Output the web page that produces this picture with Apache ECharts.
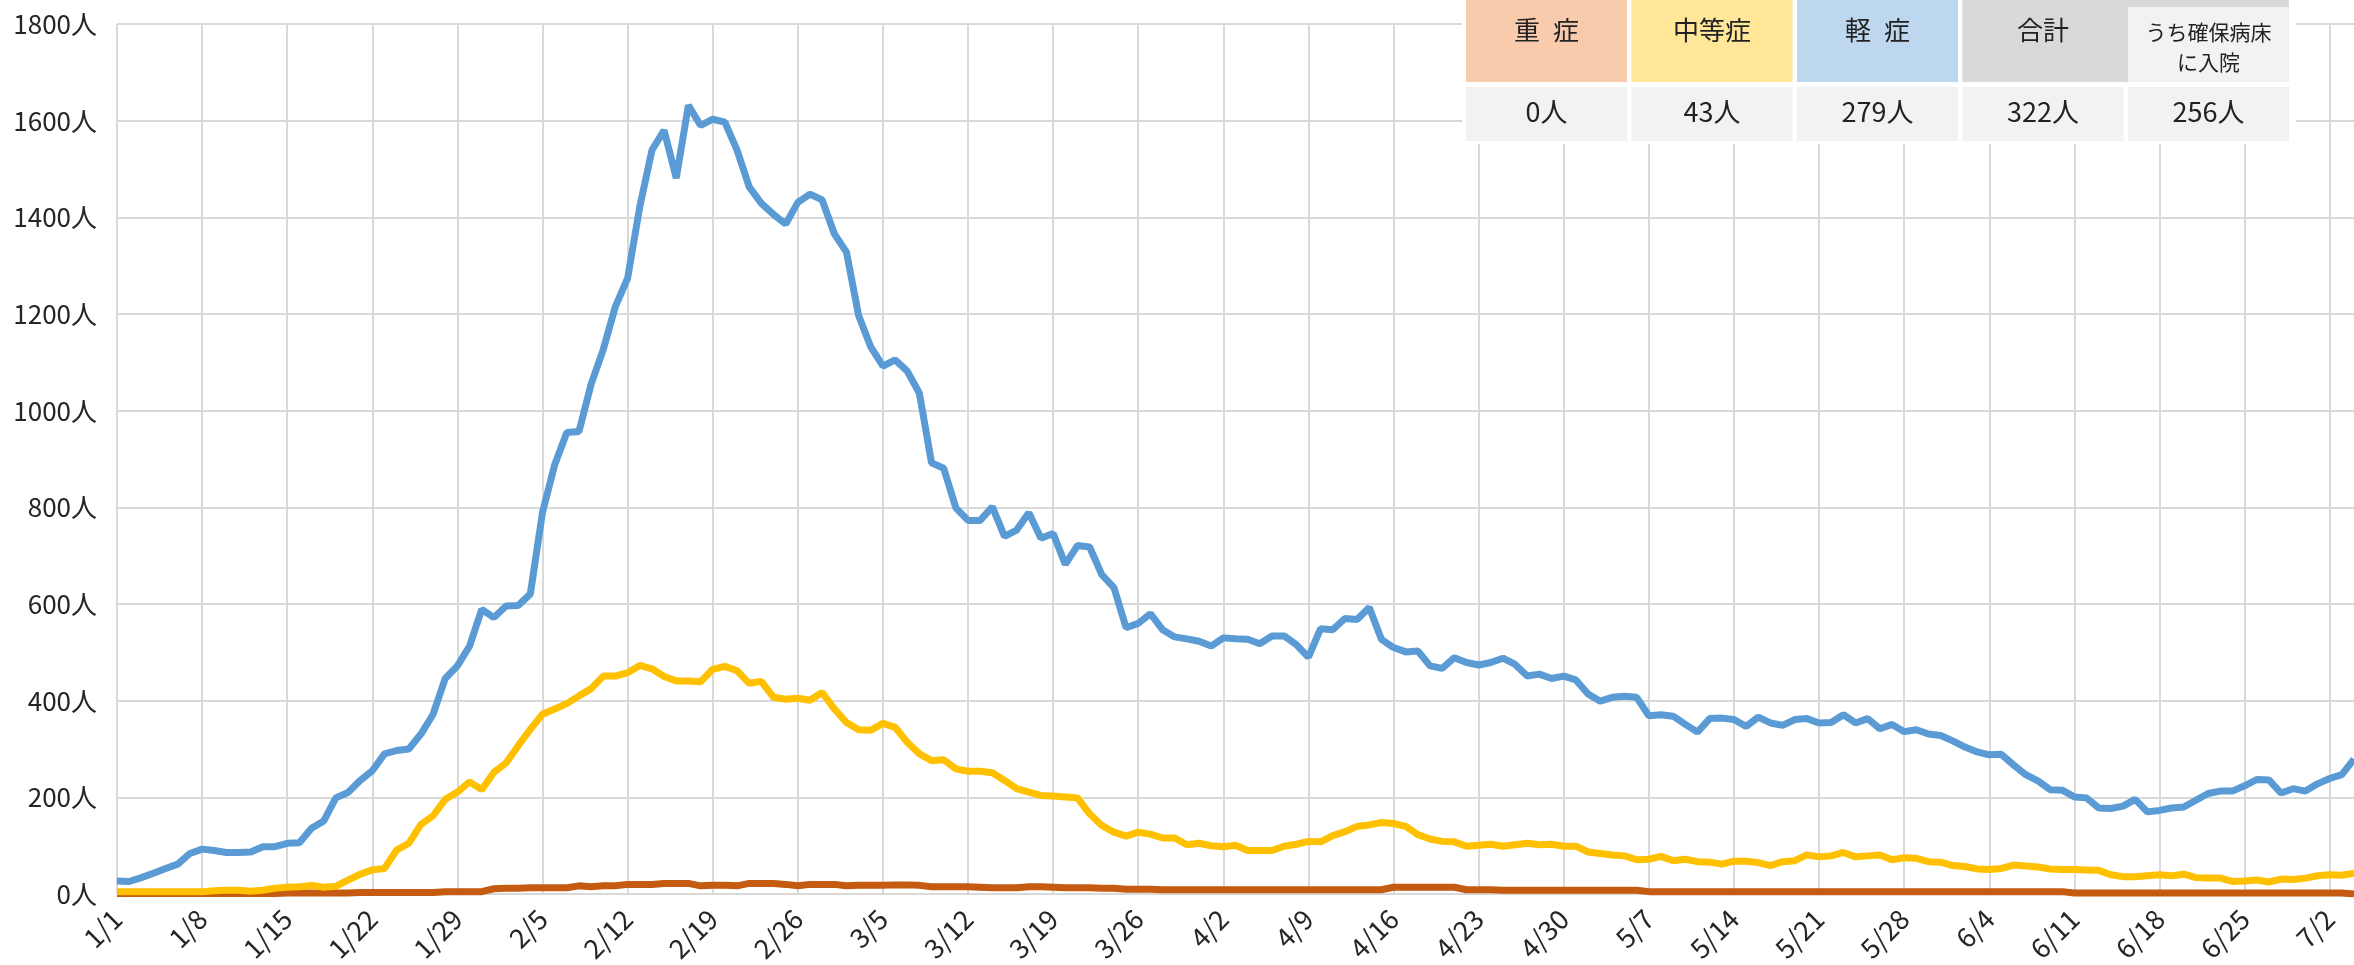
<!DOCTYPE html>
<html>
<head>
<meta charset="utf-8">
<title>入院患者数の推移</title>
<script src="https://cdn.jsdelivr.net/npm/echarts@6/dist/echarts.min.js"></script>
<style>
	body { margin: 0; background: #fff; }
	.echar-1 { width: 2354px; height: 965px; }
</style>
</head>
<body>
<div class="echar-1"></div>
<script>
// 1/1 ～ 7/4 の日付（日ごと）
var monthDays = [31, 28, 31, 30, 31, 30, 4];
var days = [];
for (let m = 0; m < monthDays.length; m++) {
	for (let d = 1; d <= monthDays[m]; d++) {
		days.push((m + 1) + '/' + d);
	}
}

// 重症
var severe = [
	1, 1, 1, 1, 1, 1, 1, 1, 1, 1, 1, 1, 1, 1, 2, 2, 2, 2, 2, 2,
	3, 3, 3, 3, 3, 3, 3, 5, 5, 5, 5, 11, 12, 12, 13, 13, 13, 13, 17, 15,
	17, 17, 20, 20, 20, 22, 22, 22, 17, 18, 18, 17, 22, 22, 22, 20, 17, 20, 20, 20,
	17, 18, 18, 18, 19, 19, 18, 15, 15, 15, 15, 14, 13, 13, 13, 15, 15, 14, 13, 13,
	13, 12, 12, 10, 10, 10, 9, 9, 9, 9, 9, 9, 9, 9, 9, 9, 9, 9, 9, 9,
	9, 9, 9, 9, 9, 14, 14, 14, 14, 14, 14, 9, 9, 9, 8, 8, 8, 8, 8, 8,
	8, 8, 8, 8, 8, 8, 5, 5, 5, 5, 5, 5, 5, 5, 5, 5, 5, 5, 5, 5,
	5, 5, 5, 5, 5, 5, 5, 5, 5, 5, 5, 5, 5, 5, 5, 5, 5, 5, 5, 5,
	5, 2, 2, 2, 2, 2, 2, 2, 2, 2, 2, 2, 2, 2, 2, 2, 2, 2, 2, 2,
	2, 2, 2, 2, 0
];

// 中等症
var moderate = [
	5, 5, 5, 5, 5, 5, 5, 5, 7, 8, 8, 6, 8, 12, 14, 15, 18, 14, 16, 29,
	41, 50, 53, 91, 105, 144, 162, 196, 211, 232, 216, 252, 271, 307, 341, 372, 383, 394, 410, 425,
	451, 451, 458, 473, 466, 450, 441, 441, 439, 465, 471, 462, 436, 440, 407, 403, 405, 401, 417, 383,
	355, 340, 339, 353, 345, 314, 290, 276, 278, 259, 254, 254, 251, 235, 218, 211, 204, 203, 201, 199,
	166, 142, 128, 120, 128, 124, 116, 116, 102, 105, 100, 98, 101, 90, 90, 90, 99, 103, 109, 108,
	121, 129, 140, 143, 148, 146, 140, 123, 114, 109, 108, 99, 101, 103, 99, 102, 105, 102, 103, 99,
	99, 87, 84, 81, 79, 71, 72, 78, 69, 72, 67, 66, 62, 68, 68, 65, 59, 67, 69, 81,
	77, 79, 86, 77, 79, 81, 71, 75, 74, 67, 66, 59, 57, 52, 51, 53, 60, 58, 56, 52,
	51, 51, 50, 49, 40, 36, 36, 38, 40, 38, 41, 34, 33, 33, 26, 27, 29, 25, 31, 30,
	33, 38, 40, 39, 43
];

// 軽症
var mild = [
	27, 26, 34, 43, 53, 62, 84, 93, 90, 86, 86, 87, 98, 98, 105, 106, 136, 151, 199, 210,
	235, 255, 290, 297, 300, 331, 372, 446, 472, 513, 589, 572, 596, 597, 621, 790, 888, 955, 957, 1055,
	1127, 1216, 1274, 1422, 1539, 1580, 1481, 1632, 1590, 1603, 1597, 1539, 1463, 1429, 1406, 1386, 1431, 1448, 1436, 1366,
	1328, 1197, 1132, 1092, 1105, 1082, 1036, 892, 881, 799, 773, 773, 801, 740, 753, 789, 736, 746, 682, 721,
	718, 661, 634, 551, 560, 580, 547, 532, 528, 523, 513, 530, 528, 527, 518, 534, 534, 516, 490, 549,
	547, 570, 568, 593, 527, 510, 501, 503, 472, 467, 489, 479, 474, 479, 488, 475, 451, 455, 446, 451,
	443, 414, 399, 407, 409, 407, 369, 371, 368, 351, 335, 363, 364, 361, 347, 366, 354, 349, 361, 363,
	354, 355, 371, 354, 363, 342, 351, 336, 340, 331, 328, 317, 304, 294, 288, 289, 267, 247, 234, 216,
	215, 201, 199, 178, 177, 182, 196, 170, 173, 178, 180, 194, 208, 213, 213, 224, 237, 236, 209, 218,
	213, 228, 239, 247, 279
];

var yTicks = [0, 200, 400, 600, 800, 1000, 1200, 1400, 1600, 1800];

// 右上の表
var tableHeads = ['重\u2002症', '中等症', '軽\u2002症', '合計', 'うち確保病床\nに入院'];
var tableValues = ['0人', '43人', '279人', '322人', '256人'];
var tableColors = ['#f8cbad', '#ffe699', '#bdd7ee', '#d9d9d9', '#f2f2f2'];

function weekly(i) {
	return i % 7 === 0;
}

function tableGraphic() {
	let g = [];
	let x0 = 1466, w = 161, gap = 4.5;
	g.push({ type: 'rect', z: 100, shape: { x: 1462, y: 0, width: 834, height: 144 }, style: { fill: '#fff' } });
	// 合計 の見出しは上端で右の列まで続く
	g.push({ type: 'rect', z: 101, shape: { x: x0 + 3 * (w + gap), y: 0, width: 2 * w + gap, height: 82 }, style: { fill: tableColors[3] } });
	for (let i = 0; i < tableHeads.length; i++) {
		let x = x0 + i * (w + gap);
		let top = i == 4 ? 7 : 0;
		g.push({ type: 'rect', z: 102, shape: { x: x, y: top, width: w, height: 82 - top }, style: { fill: tableColors[i] } });
		g.push({ type: 'rect', z: 102, shape: { x: x, y: 87, width: w, height: 54 }, style: { fill: '#f2f2f2' } });
		g.push({
			type: 'text', z: 103, x: x + w / 2, y: i == 4 ? 47 : 30,
			style: {
				text: tableHeads[i], align: 'center', verticalAlign: 'middle',
				fontSize: i == 4 ? 21 : 26, lineHeight: 30, fill: '#222',
				fontFamily: '"Noto Sans CJK JP", sans-serif'
			}
		});
		g.push({
			type: 'text', z: 103, x: x + w / 2, y: 112,
			style: {
				text: tableValues[i], align: 'center', verticalAlign: 'middle',
				fontSize: 27, fill: '#222', fontFamily: '"Noto Sans CJK JP", sans-serif'
			}
		});
	}
	return g;
}

function echar_1() {
	let chartDom = document.getElementsByClassName('echar-1')[0];
	let myChart = echarts.init(chartDom);
	let option;

	option = {
		animation: false,
		backgroundColor: '#fff',
		textStyle: { fontFamily: '"Noto Sans CJK JP", sans-serif' },
		grid: { left: 117, right: -6, top: 24, bottom: 70 },
		xAxis: {
			type: 'category',
			boundaryGap: false,
			data: days,
			axisLine: { show: false },
			axisTick: { show: false },
			axisLabel: {
				interval: weekly,
				rotate: 45,
				margin: 20,
				fontSize: 27,
				color: '#262626'
			},
			splitLine: {
				show: true,
				interval: weekly,
				lineStyle: { color: '#d9d9d9', width: 2 }
			}
		},
		yAxis: {
			type: 'value',
			min: yTicks[0],
			max: yTicks[yTicks.length - 1],
			interval: yTicks[1] - yTicks[0],
			axisLine: { show: false },
			axisTick: { show: false },
			axisLabel: {
				formatter: function(v) {
					return v + '人';
				},
				margin: 20,
				fontSize: 26,
				color: '#262626'
			},
			splitLine: { lineStyle: { color: '#d9d9d9', width: 2 } }
		},
		series: [{
				name: '重症',
				type: 'line',
				data: severe,
				symbol: 'none',
				lineStyle: { color: '#c55a11', width: 7 },
				itemStyle: { color: '#c55a11' }
			},
			{
				name: '中等症',
				type: 'line',
				data: moderate,
				symbol: 'none',
				lineStyle: { color: '#ffc000', width: 7 },
				itemStyle: { color: '#ffc000' }
			},
			{
				name: '軽症',
				type: 'line',
				data: mild,
				symbol: 'none',
				lineStyle: { color: '#5b9bd5', width: 7 },
				itemStyle: { color: '#5b9bd5' }
			}
		],
		graphic: tableGraphic()
	};
	option && myChart.setOption(option);
}

echar_1();
</script>
</body>
</html>
